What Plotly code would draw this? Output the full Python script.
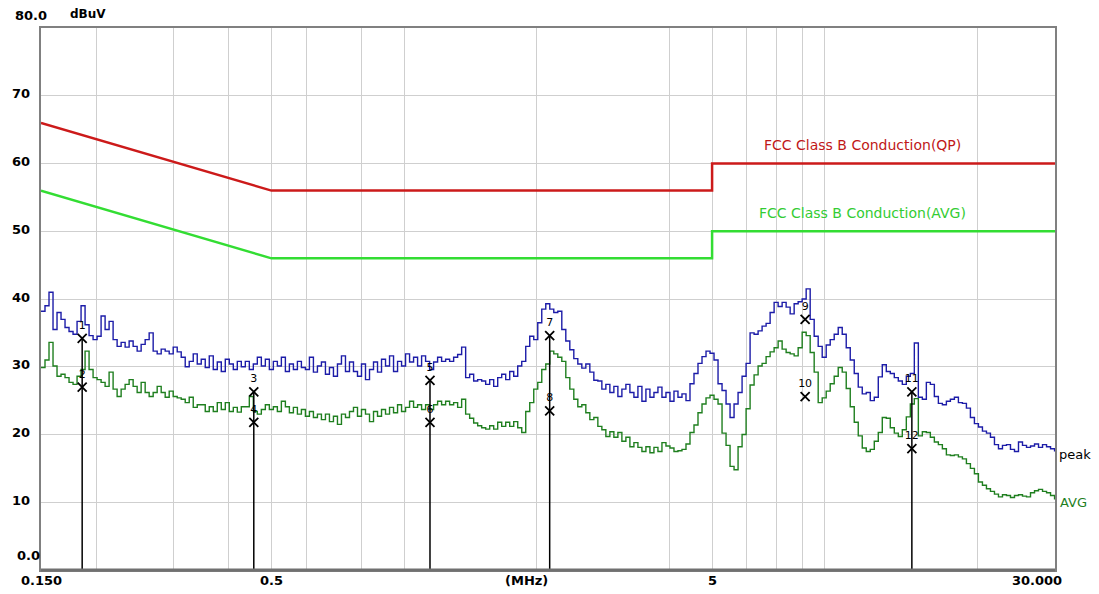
import math
import plotly.graph_objects as go

# ---------------- data ----------------
freq_mhz = [
    0.15000, 0.15317, 0.15641, 0.15972, 0.16310, 0.16655, 0.17007, 0.17367, 0.17735, 0.18110,
    0.18493, 0.18884, 0.19283, 0.19691, 0.20108, 0.20533, 0.20968, 0.21411, 0.21864, 0.22327,
    0.22799, 0.23281, 0.23774, 0.24276, 0.24790, 0.25314, 0.25850, 0.26397, 0.26955, 0.27525,
    0.28108, 0.28702, 0.29309, 0.29929, 0.30562, 0.31209, 0.31869, 0.32543, 0.33232, 0.33935,
    0.34652, 0.35385, 0.36134, 0.36898, 0.37679, 0.38476, 0.39290, 0.40121, 0.40970, 0.41836,
    0.42721, 0.43625, 0.44548, 0.45490, 0.46452, 0.47435, 0.48438, 0.49463, 0.50509, 0.51578,
    0.52669, 0.53783, 0.54921, 0.56083, 0.57269, 0.58481, 0.59718, 0.60981, 0.62271, 0.63588,
    0.64933, 0.66307, 0.67709, 0.69142, 0.70604, 0.72098, 0.73623, 0.75180, 0.76771, 0.78395,
    0.80053, 0.81746, 0.83475, 0.85241, 0.87044, 0.88885, 0.90766, 0.92686, 0.94646, 0.96649,
    0.98693, 1.00780, 1.02912, 1.05089, 1.07312, 1.09582, 1.11900, 1.14268, 1.16685, 1.19153,
    1.21669, 1.24243, 1.26871, 1.29555, 1.32296, 1.35094, 1.37952, 1.40870, 1.43850, 1.46893,
    1.5000, 1.5317, 1.5641, 1.5972, 1.6310, 1.6655, 1.7007, 1.7367, 1.7735, 1.8110,
    1.8493, 1.8884, 1.9283, 1.9691, 2.0108, 2.0533, 2.0968, 2.1411, 2.1864, 2.2327,
    2.2799, 2.3281, 2.3774, 2.4276, 2.4790, 2.5314, 2.5850, 2.6397, 2.6955, 2.7525,
    2.8108, 2.8702, 2.9309, 2.9929, 3.0562, 3.1209, 3.1869, 3.2543, 3.3232, 3.3935,
    3.4652, 3.5385, 3.6134, 3.6898, 3.7679, 3.8476, 3.9290, 4.0121, 4.0970, 4.1836,
    4.2721, 4.3625, 4.4548, 4.5490, 4.6452, 4.7435, 4.8438, 4.9463, 5.0509, 5.1578,
    5.2669, 5.3783, 5.4921, 5.6083, 5.7269, 5.8481, 5.9718, 6.0981, 6.2271, 6.3588,
    6.4933, 6.6307, 6.7709, 6.9142, 7.0604, 7.2098, 7.3623, 7.5180, 7.6771, 7.8395,
    8.0053, 8.1746, 8.3475, 8.5241, 8.7044, 8.8885, 9.0766, 9.2686, 9.4646, 9.6649,
    9.8693, 10.0780, 10.2912, 10.5089, 10.7312, 10.9582, 11.1900, 11.4268, 11.6685, 11.9153,
    12.1669, 12.4243, 12.6871, 12.9555, 13.2296, 13.5094, 13.7952, 14.0870, 14.3850, 14.6893,
    15.000, 15.317, 15.641, 15.972, 16.310, 16.655, 17.007, 17.367, 17.735, 18.110,
    18.493, 18.884, 19.283, 19.691, 20.108, 20.533, 20.968, 21.411, 21.864, 22.327,
    22.799, 23.281, 23.774, 24.276, 24.790, 25.314, 25.850, 26.397, 26.955, 27.525,
    28.108, 28.702, 29.309, 29.929,
]

peak_dbuv = [
    38.2, 39.0, 41.0, 35.5, 38.0, 37.0, 35.8, 35.2, 34.8, 36.7,
    39.0, 36.2, 34.6, 34.0, 34.5, 37.5, 35.5, 36.7, 34.0, 33.0,
    33.6, 32.9, 33.8, 33.0, 32.3, 33.3, 34.0, 35.0, 32.3, 31.9,
    32.6, 32.3, 31.9, 32.9, 32.2, 31.4, 30.0, 30.8, 31.9, 30.4,
    31.1, 29.9, 31.6, 29.6, 30.7, 29.3, 31.1, 30.4, 29.6, 30.8,
    30.0, 30.8, 29.6, 30.4, 31.4, 30.1, 31.1, 29.6, 30.8, 30.1,
    31.4, 29.3, 30.4, 29.6, 30.8, 29.9, 29.6, 31.4, 29.2, 30.1,
    30.7, 28.9, 29.9, 28.6, 30.4, 31.6, 29.3, 30.7, 29.3, 28.6,
    30.4, 28.1, 29.6, 30.7, 29.2, 31.1, 30.1, 31.6, 29.3, 30.8,
    30.1, 31.9, 30.7, 31.4, 30.1, 31.6, 30.8, 29.6, 30.7, 31.4,
    30.8, 31.1, 30.8, 31.4, 31.8, 32.9, 28.4, 28.9, 27.9, 28.1,
    27.9, 27.4, 28.1, 27.1, 28.4, 28.9, 28.1, 29.3, 28.6, 30.1,
    30.8, 33.0, 34.5, 34.0, 36.5, 38.5, 39.3, 38.5, 38.0, 38.2,
    35.5, 33.8, 32.5, 31.2, 30.4, 29.8, 30.4, 29.2, 28.0, 27.9,
    26.7, 27.4, 26.2, 27.1, 25.6, 26.7, 27.4, 26.2, 25.5, 27.1,
    24.9, 26.7, 25.5, 26.2, 27.0, 25.5, 26.2, 24.9, 26.4, 25.5,
    26.0, 25.0, 27.5, 29.0, 30.5, 31.5, 32.3, 32.0, 31.0, 27.5,
    26.5, 24.5, 22.5, 24.5, 26.2, 28.6, 30.5, 35.0, 34.8, 35.3,
    36.0, 36.4, 38.0, 39.5, 38.9, 39.5, 38.8, 37.8, 39.3, 39.6,
    40.0, 41.5, 37.0, 34.5, 33.0, 31.4, 33.2, 34.0, 34.8, 35.8,
    34.8, 32.8, 31.0, 29.0, 27.0, 26.0, 26.2, 25.0, 25.5, 28.5,
    30.3, 29.3, 29.0, 28.4, 27.9, 27.4, 28.6, 29.0, 33.5, 25.5,
    25.2, 27.7, 27.4, 25.6, 24.6, 24.4, 24.9, 25.2, 25.5, 24.7,
    24.6, 23.9, 22.5, 21.6, 21.1, 20.5, 20.2, 19.6, 18.5, 17.9,
    18.4, 18.5, 17.8, 17.5, 18.9, 18.4, 18.1, 18.3, 18.6, 18.1,
    18.5, 18.2, 17.9, 17.5,
]

avg_dbuv = [
    29.9, 31.0, 33.6, 30.1, 28.6, 28.9, 28.4, 27.7, 27.4, 28.6,
    29.6, 32.3, 29.6, 28.4, 28.1, 27.7, 27.1, 29.2, 26.7, 25.6,
    26.7, 27.4, 28.1, 27.1, 26.2, 27.7, 26.2, 25.6, 26.2, 27.1,
    26.2, 25.5, 26.4, 25.6, 25.4, 25.2, 24.7, 25.5, 24.0, 24.4,
    24.4, 23.4, 24.1, 23.4, 24.7, 23.7, 24.7, 23.4, 24.0, 23.3,
    24.1, 24.1, 25.6, 23.4, 23.0, 23.7, 24.4, 23.7, 24.1, 23.4,
    24.9, 24.1, 23.2, 24.0, 23.0, 23.7, 22.7, 23.4, 22.5, 23.0,
    22.2, 23.0, 21.9, 22.7, 21.5, 23.0, 22.5, 23.4, 24.0, 22.7,
    23.7, 23.0, 21.9, 23.4, 22.7, 23.7, 23.0, 24.0, 23.2, 24.4,
    23.4, 24.0, 24.9, 24.0, 24.4, 23.7, 24.4, 23.7, 24.4, 24.9,
    24.4, 24.9, 24.4, 24.7, 24.0, 25.2, 23.0, 22.4, 21.7, 21.3,
    21.0, 20.8, 21.3, 20.8, 21.8, 21.2, 21.8, 21.2, 21.9, 21.0,
    20.3, 23.4, 24.7, 26.7, 27.7, 29.6, 30.4, 32.3, 31.9, 31.4,
    30.8, 28.4, 26.7, 25.2, 24.1, 24.4, 23.2, 22.2, 22.5, 21.2,
    20.7, 19.7, 20.4, 19.6, 20.3, 19.0, 19.6, 18.2, 18.8, 18.1,
    17.5, 18.2, 17.3, 18.1, 17.5, 18.8, 18.3, 18.0, 17.5, 17.6,
    17.8, 18.6, 20.3, 21.4, 23.2, 24.5, 25.4, 25.8, 25.2, 24.5,
    20.2, 18.4, 15.3, 14.8, 18.2, 20.0, 23.8, 27.3, 28.8, 30.1,
    30.5, 31.5, 32.2, 32.8, 33.8, 32.6, 32.1, 31.9, 31.6, 32.8,
    35.1, 34.6, 32.1, 29.2, 24.7, 25.4, 26.4, 27.5, 28.6, 29.9,
    29.2, 26.8, 24.1, 21.8, 19.8, 18.0, 17.5, 17.8, 19.0, 20.3,
    22.5, 22.4, 21.0, 20.2, 19.7, 20.7, 22.6, 24.5, 25.3, 19.8,
    20.4, 20.3, 19.6, 18.9, 18.5, 17.9, 17.0, 16.9, 17.0, 16.7,
    16.4, 15.7, 15.0, 14.2, 13.0, 12.5, 12.0, 11.6, 11.2, 10.8,
    11.1, 11.0, 10.7, 11.0, 11.1, 10.9, 10.8, 11.4, 11.7, 11.9,
    11.6, 11.4, 11.0, 10.4,
]

# FCC Class B conducted limits
limit_freq = [0.15, 0.5, 5.0, 5.0, 30.0]
limit_qp = [66, 56, 56, 60, 60]
limit_avg = [56, 46, 46, 50, 50]

# measured markers (number, frequency MHz, level dBuV)
marker_no = ["1", "2", "3", "4", "5", "6", "7", "8", "9", "10", "11", "12"]
marker_freq = [0.186, 0.186, 0.456, 0.456, 1.145, 1.145, 2.14, 2.14, 8.13, 8.13, 14.2, 14.2]
marker_db = [34.2, 27.0, 26.3, 21.8, 28.0, 21.8, 34.6, 23.5, 37.0, 25.6, 26.3, 17.9]
# marker stems (upper marker of each pair)
stem_freq = [0.186, 0.456, 1.145, 2.14, 14.2]
stem_db = [34.2, 26.3, 28.0, 34.6, 26.3]

x_grid = [0.2, 0.3, 0.4, 0.5, 0.6, 0.8, 1, 2, 4, 5, 6, 7, 8, 9, 20]
y_ticks = [10, 20, 30, 40, 50, 60, 70]
x_label_vals = [0.15, 0.5, 5]
x_label_text = ["0.150", "0.5", "5"]

# ---------------- figure ----------------
FONT = "DejaVu Sans"
fig = go.Figure()

fig.add_trace(go.Scatter(x=limit_freq, y=limit_qp, mode="lines",
                         line=dict(color="#cc1a1a", width=2.5), hoverinfo="skip"))
fig.add_trace(go.Scatter(x=limit_freq, y=limit_avg, mode="lines",
                         line=dict(color="#33dd33", width=2.5), hoverinfo="skip"))

fig.add_trace(go.Scatter(x=freq_mhz, y=avg_dbuv, mode="lines",
                         line=dict(color="#1f7f1f", width=1.4, shape="hv")))
fig.add_trace(go.Scatter(x=freq_mhz, y=peak_dbuv, mode="lines",
                         line=dict(color="#1c1ca8", width=1.4, shape="hv")))

sx, sy = [], []
for f, v in zip(stem_freq, stem_db):
    sx += [f, f, None]
    sy += [0, v, None]
fig.add_trace(go.Scatter(x=sx, y=sy, mode="lines",
                         line=dict(color="black", width=1.5), hoverinfo="skip"))

fig.add_trace(go.Scatter(x=marker_freq, y=marker_db, mode="markers+text",
                         marker=dict(symbol="x-thin", size=9,
                                     line=dict(color="black", width=1.8)),
                         text=marker_no, textposition="top center",
                         textfont=dict(family=FONT, size=11, color="black")))

BOLD = dict(family=FONT, size=13, color="black", weight="bold")
ann = []
for v in y_ticks:
    ann.append(dict(x=-0.0306, xref="paper", y=v, yref="y", text=str(v),
                    xanchor="left", yanchor="middle", yshift=2, showarrow=False,
                    font=BOLD))
ann.append(dict(x=-0.0256, xref="paper", y=0, yref="y", text="0.0",
                xanchor="left", yanchor="middle", yshift=15, showarrow=False,
                font=BOLD))
ann.append(dict(x=-0.028, xref="paper", y=1, yref="paper", text="80.0",
                xanchor="left", yanchor="middle", yshift=13, showarrow=False,
                font=BOLD))
ann.append(dict(x=0.027, xref="paper", y=1, yref="paper", text="dBuV",
                xanchor="left", yanchor="middle", yshift=14, showarrow=False,
                font=dict(family=FONT, size=12, color="black", weight="bold")))
for v, t in zip(x_label_vals, x_label_text):
    ann.append(dict(x=math.log10(v), xref="x", y=0, yref="paper", text=t,
                    xanchor="center", yanchor="top", yshift=-1, showarrow=False,
                    font=BOLD))
ann.append(dict(x=math.log10(1.9), xref="x", y=0, yref="paper", text="(MHz)",
                xanchor="center", yanchor="top", yshift=-1, showarrow=False,
                font=BOLD))
ann.append(dict(x=math.log10(30), xref="x", y=0, yref="paper", text="30.000",
                xanchor="center", yanchor="top", yshift=-1, xshift=-18, showarrow=False,
                font=BOLD))
ann.append(dict(x=math.log10(11.0), xref="x", y=62.8, yref="y",
                text="FCC Class B Conduction(QP)", showarrow=False,
                font=dict(family=FONT, size=14, color="#c01818")))
ann.append(dict(x=math.log10(11.0), xref="x", y=52.7, yref="y",
                text="FCC Class B Conduction(AVG)", showarrow=False,
                font=dict(family=FONT, size=14, color="#33cc33")))
ann.append(dict(x=1.0, xref="paper", y=17.0, yref="y", text="peak",
                xanchor="left", showarrow=False, xshift=2,
                font=dict(family=FONT, size=13, color="black")))
ann.append(dict(x=1.0, xref="paper", y=10.0, yref="y", text="AVG",
                xanchor="left", showarrow=False, xshift=3,
                font=dict(family=FONT, size=13, color="#1f7f1f")))

fig.update_layout(
    width=1099, height=594,
    margin=dict(l=41, r=44, t=28, b=24),
    paper_bgcolor="white", plot_bgcolor="white",
    showlegend=False,
    annotations=ann,
    shapes=[
        dict(type="line", xref="paper", yref="paper", x0=0, x1=1, y0=0, y1=0,
             line=dict(color="#707070", width=3)),
    ],
)
fig.update_xaxes(type="log", range=[math.log10(0.15), math.log10(30)],
                 tickvals=x_grid, showticklabels=False, ticks="",
                 showgrid=True, gridcolor="#cfcfcf", gridwidth=1,
                 showline=True, linecolor="#808080", linewidth=2, mirror=True,
                 zeroline=False)
fig.update_yaxes(range=[0, 80], tickvals=y_ticks, showticklabels=False, ticks="",
                 showgrid=True, gridcolor="#cfcfcf", gridwidth=1,
                 showline=True, linecolor="#808080", linewidth=2, mirror=True,
                 zeroline=False)

fig.write_html("out.html", config={"displayModeBar": False},
               post_script="document.body.style.margin='0';document.body.style.overflow='hidden';")
